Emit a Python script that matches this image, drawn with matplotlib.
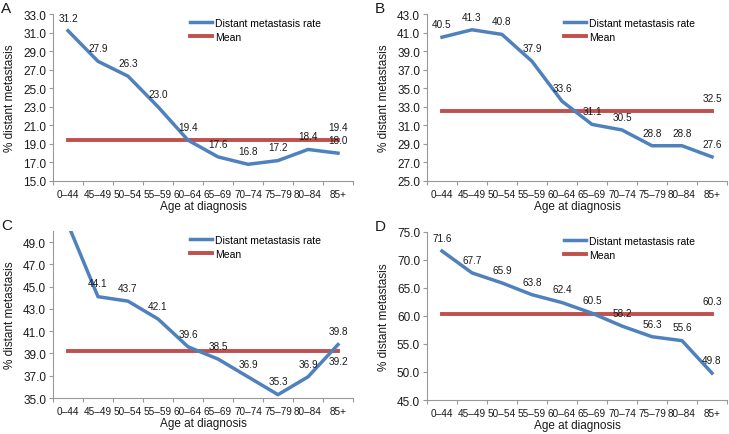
"""Distant metastasis rate by age at diagnosis, four panels."""

import matplotlib
matplotlib.use("Agg")
import matplotlib.pyplot as plt
from matplotlib.ticker import FormatStrFormatter

plt.rcParams['font.family'] = ['Liberation Sans', 'DejaVu Sans']

# data
age_groups = ["0–44", "45–49", "50–54", "55–59", "60–64",
              "65–69", "70–74", "75–79", "80–84", "85+"]

rate_a = [31.2, 27.9, 26.3, 23.0, 19.4, 17.6, 16.8, 17.2, 18.4, 18.0]
rate_b = [40.5, 41.3, 40.8, 37.9, 33.6, 31.1, 30.5, 28.8, 28.8, 27.6]
rate_c = [50.6, 44.1, 43.7, 42.1, 39.6, 38.5, 36.9, 35.3, 36.9, 39.8]
rate_d = [71.6, 67.7, 65.9, 63.8, 62.4, 60.5, 58.2, 56.3, 55.6, 49.8]

mean_a = 19.4
mean_b = 32.5
mean_c = 39.2
mean_d = 60.3

BLUE = '#4f81bd'
RED = '#c0504d'
GREY = '#999999'
TXT = '#1a1a1a'

W, H = 729, 435

# panel: letter, values, mean, y range, y step, axes box in pixels (left, top, right, bottom), mean label below?
panels = [
    ("A", rate_a, mean_a, (15, 33), 2, (53, 15, 353, 182), False),
    ("B", rate_b, mean_b, (25, 43), 2, (427, 15, 727, 182), False),
    ("C", rate_c, mean_c, (35, 50), 2, (53, 232, 353, 399), True),
    ("D", rate_d, mean_d, (45, 75), 5, (427, 233, 727, 401), False),
]

fig = plt.figure(figsize=(W / 100, H / 100), dpi=100)

for letter, vals, mean, (y0, y1), step, (l, t, r, b), mean_below in panels:
    ax = fig.add_axes([l / W, 1 - b / H, (r - l) / W, (b - t) / H])
    x = list(range(len(age_groups)))

    ax.plot(x, vals, color=BLUE, lw=2.5, solid_joinstyle='round',
            label='Distant metastasis rate', zorder=3)
    ax.plot([x[0], x[-1]], [mean, mean], color=RED, lw=2.8,
            label='Mean', zorder=2)

    for xi, v in zip(x, vals):
        if y0 <= v <= y1:
            ax.annotate(f"{v:.1f}", (xi, v), xytext=(0, 9.5),
                        textcoords='offset points', ha='center',
                        va='center', fontsize=7.2, color=TXT)
    off = -7 if mean_below else 9.5
    ax.annotate(f"{mean:.1f}", (x[-1], mean), xytext=(0, off),
                textcoords='offset points', ha='center', va='center',
                fontsize=7.2, color=TXT)

    ax.set_xlim(-0.5, len(age_groups) - 0.5)
    ax.set_ylim(y0, y1)
    ax.set_xticks([i - 0.5 for i in range(len(age_groups) + 1)])
    ax.set_xticklabels([])
    ax.set_xticks(x, minor=True)
    ax.set_xticklabels(age_groups, minor=True, fontsize=7.2, color=TXT)
    ax.tick_params(axis='x', which='major', length=3, color=GREY)
    ax.tick_params(axis='x', which='minor', length=0, pad=6)
    ax.set_yticks([y0 + i * step for i in range(int((y1 - y0) // step) + 1)])
    ax.yaxis.set_major_formatter(FormatStrFormatter('%.1f'))
    ax.tick_params(axis='y', length=3, color=GREY, labelsize=8.5,
                   labelcolor=TXT, pad=2)

    for side in ('top', 'right'):
        ax.spines[side].set_visible(False)
    for side in ('left', 'bottom'):
        ax.spines[side].set_color(GREY)
        ax.spines[side].set_linewidth(0.8)

    ax.set_xlabel('Age at diagnosis', fontsize=8.5, labelpad=0.5, color=TXT)
    ax.set_ylabel('% distant metastasis', fontsize=8.5, labelpad=5, color=TXT)

    ax.legend(loc='upper left', bbox_to_anchor=(0.44, 1.01), frameon=False,
              borderpad=0, fontsize=7.5, handlelength=2.1, labelspacing=0.4,
              handletextpad=0.3)

    fig.text((l - 52) / W, 1 - (t - 6) / H, letter, fontsize=11,
             ha='left', va='center', color=TXT)

fig.savefig('out.png', dpi=100)
